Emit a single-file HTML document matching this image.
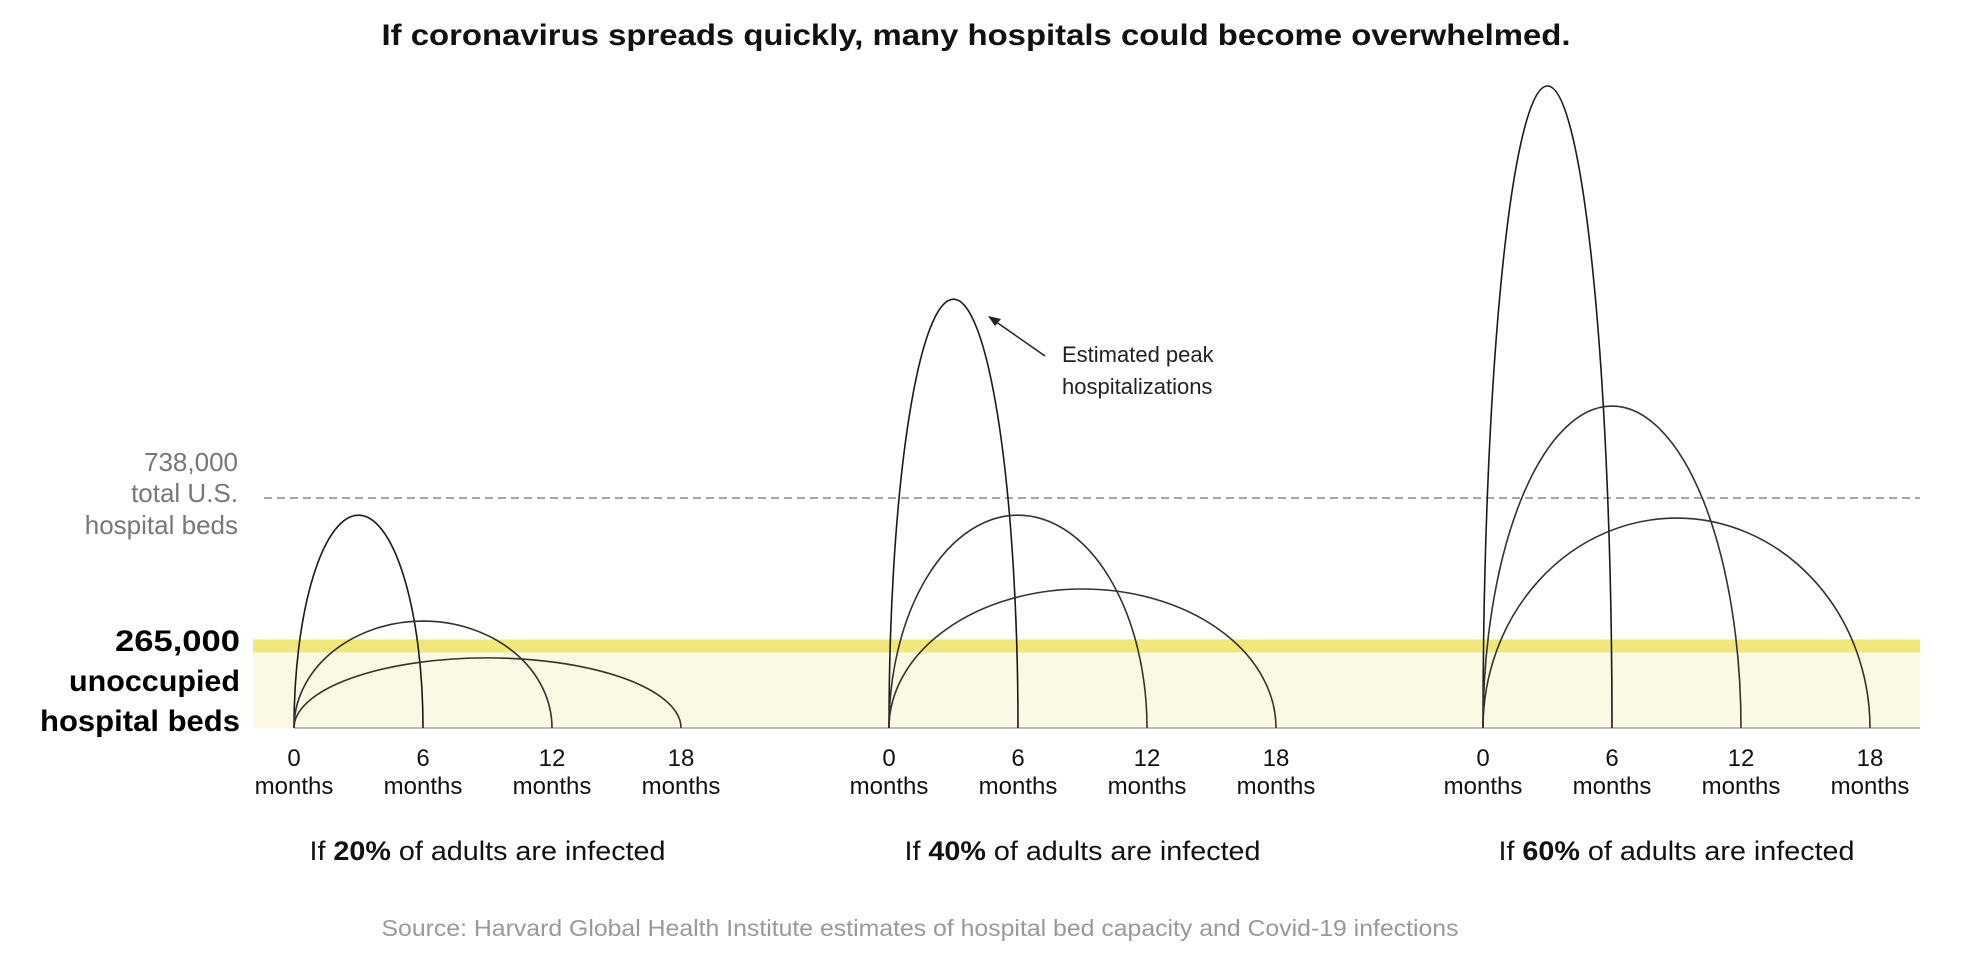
<!DOCTYPE html>
<html><head><meta charset="utf-8"><style>
html,body{margin:0;padding:0;background:#fff;}
svg{display:block;font-family:"Liberation Sans",sans-serif;}
</style></head><body>
<svg id="chart" width="1968" height="970" viewBox="0 0 1968 970">
<text x="976" y="45" text-anchor="middle" font-size="30" font-weight="bold" textLength="1189" lengthAdjust="spacingAndGlyphs" fill="#111">If coronavirus spreads quickly, many hospitals could become overwhelmed.</text>
<rect x="253" y="652" width="1667" height="76" fill="#fbf9e3"/>
<g id="marks"></g>
<g id="labels"></g>
<text x="1062" y="362" font-size="22" fill="#222">Estimated peak</text>
<text x="1062" y="394" font-size="22" fill="#222">hospitalizations</text>
<line x1="1045" y1="356" x2="992" y2="319" stroke="#222" stroke-width="1.5"/>
<path d="M988,316 L1001,319 L995,326 Z" fill="#222"/>
<g text-anchor="end" fill="#777" font-size="26">
<text x="238" y="471">738,000</text>
<text x="238" y="502">total U.S.</text>
<text x="238" y="534">hospital beds</text>
</g>
<g text-anchor="end" fill="#000" font-size="30" font-weight="bold">
<text x="240" y="651" textLength="125" lengthAdjust="spacingAndGlyphs">265,000</text>
<text x="240" y="691" textLength="171" lengthAdjust="spacingAndGlyphs">unoccupied</text>
<text x="240" y="731" textLength="200" lengthAdjust="spacingAndGlyphs">hospital beds</text>
</g>
<text x="920" y="936" text-anchor="middle" font-size="23" fill="#999" textLength="1077" lengthAdjust="spacingAndGlyphs">Source: Harvard Global Health Institute estimates of hospital bed capacity and Covid-19 infections</text>
</svg>
<script>
const scenarios = ["20%", "40%", "60%"];
const peakTall = [683000, 1376000, 2060000];
const peakMid = [343000, 683000, 1033000];
const peakWide = [225000, 446000, 674000];
const durations = [6, 12, 18];
const tickMonths = [0, 6, 12, 18];
const totalBeds = 738000;
const unoccupiedBeds = 265000;

const NS = "http://www.w3.org/2000/svg";
const baseY = 728, pxPerBed = 230 / 738000;
const panelX0 = [294, 889, 1483], pxPerMonth = 129 / 6;
function y(v){ return baseY - v * pxPerBed; }
function x(p, m){ return panelX0[p] + m * pxPerMonth; }
const marks = document.getElementById('marks');
const labels = document.getElementById('labels');
function mk(tag, attrs, parent){ const e = document.createElementNS(NS, tag); for (const k in attrs) e.setAttribute(k, attrs[k]); parent.appendChild(e); return e; }

const dash = mk('line', {x1:264, x2:1920, y1:y(totalBeds), y2:y(totalBeds), stroke:'#888', 'stroke-width':1.5, 'stroke-dasharray':'8 5'}, marks);


const yl = mk('rect', {x:253, width:1667, y:y(unoccupiedBeds)-6, height:13, fill:'#f0e87c'}, marks);


const bl = mk('line', {x1:294, x2:1920, y1:baseY, y2:baseY, stroke:'#bbb', 'stroke-width':2}, marks);



const series = [peakTall, peakMid, peakWide];
const sNames = ['fast-spread', 'medium-spread', 'slow-spread'];
for (let p = 0; p < scenarios.length; p++) {
  for (let s = 0; s < series.length; s++) {
    const x0 = x(p, 0), x1 = x(p, durations[s]);
    const rx = (x1 - x0) / 2, ry = baseY - y(series[s][p]);
    const path = mk('path', {d:`M${x0},${baseY} A${rx},${ry} 0 0 1 ${x1},${baseY}`, fill:'none', stroke: s===0?'#1a1a1a':'#33322a', 'stroke-width':1.6}, marks);
    
    
  }
  for (const m of tickMonths) {
    const t1 = mk('text', {x:x(p,m), y:766, 'text-anchor':'middle', 'font-size':24, fill:'#111'}, labels);
    t1.textContent = m;
    
    
    const t2 = mk('text', {x:x(p,m), y:794, 'text-anchor':'middle', 'font-size':24, fill:'#111'}, labels);
    t2.textContent = 'months';
    
    
  }
  const cap = mk('text', {x:x(p,9), y:860, 'text-anchor':'middle', 'font-size':27, fill:'#111', textLength:356, lengthAdjust:'spacingAndGlyphs'}, labels);
  
  
  const a = mk('tspan', {}, cap); a.textContent = 'If ';
  const b = mk('tspan', {'font-weight':'bold'}, cap); b.textContent = scenarios[p];
  const c = mk('tspan', {}, cap); c.textContent = ' of adults are infected';
}
</script>
</body></html>
